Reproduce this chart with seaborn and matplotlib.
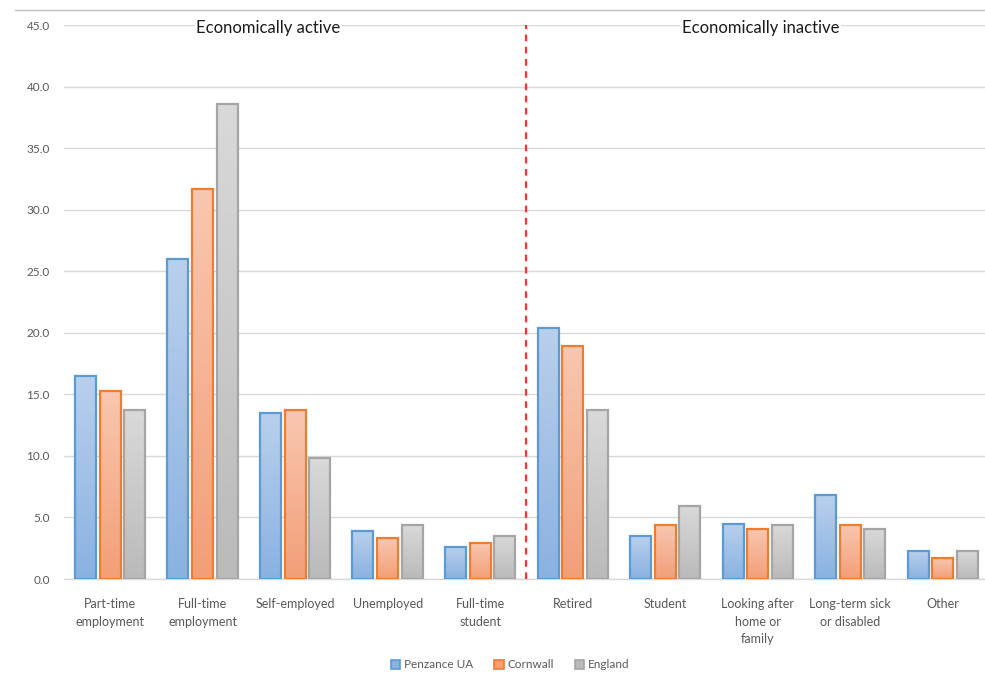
import numpy as np
import pandas as pd
import matplotlib
matplotlib.use("Agg")
import matplotlib.pyplot as plt
import seaborn as sns
from matplotlib.colors import LinearSegmentedColormap
from matplotlib.patches import Patch

categories = ["Part-time\nemployment", "Full-time\nemployment", "Self-employed",
              "Unemployed", "Full-time\nstudent", "Retired", "Student",
              "Looking after\nhome or\nfamily", "Long-term sick\nor disabled", "Other"]
series = ["Penzance UA", "Cornwall", "England"]
penzance = [16.5, 26.0, 13.5, 3.9, 2.6, 20.4, 3.5, 4.5, 6.8, 2.3]
cornwall = [15.3, 31.7, 13.7, 3.3, 2.9, 18.9, 4.4, 4.1, 4.4, 1.7]
england = [13.7, 38.6, 9.8, 4.4, 3.5, 13.7, 5.9, 4.4, 4.1, 2.3]
y_ticks = [0, 5, 10, 15, 20, 25, 30, 35, 40, 45]
section_labels = ["Economically active", "Economically inactive"]

edge_colors = ["#5B9BD5", "#ED7D31", "#A5A5A5"]
grad_top = ["#b9d0ec", "#f8c7b0", "#d9d9d9"]
grad_bot = ["#8ab2e1", "#f29f77", "#bababa"]

df = pd.DataFrame({
    "category": categories * 3,
    "series": [s for s in series for _ in categories],
    "value": penzance + cornwall + england,
})

sns.set_theme(style="white")
plt.rcParams["font.family"] = ["Lato", "DejaVu Sans"]

fig = plt.figure(figsize=(9.85, 6.75), dpi=100)
ax = fig.add_axes([63.8 / 985, 96 / 675, 923.3 / 985, 554 / 675])

sns.barplot(data=df, x="category", y="value", hue="series", order=categories,
            hue_order=series, palette=grad_bot, width=0.8, gap=0.15,
            ax=ax, legend=False, zorder=3)

# Gradient fills and edges
n = len(categories)
for i, cont in enumerate(ax.containers):
    cmap = LinearSegmentedColormap.from_list(f"g{i}", [grad_bot[i], grad_top[i]])
    for p in cont.patches:
        x0, y0 = p.get_x(), p.get_y()
        w, h = p.get_width(), p.get_height()
        p.set_facecolor("none")
        p.set_edgecolor(edge_colors[i])
        p.set_linewidth(1.6)
        p.set_zorder(4)
        grad = np.linspace(0, 1, 100).reshape(-1, 1)
        im = ax.imshow(grad, cmap=cmap, extent=[x0, x0 + w, y0, y0 + h],
                       origin="lower", aspect="auto", zorder=3.5)
        im.set_clip_path(p)

ax.set_xlim(-0.5, n - 0.5 - 2 / 92.3)
ax.set_ylim(0, 45)
ax.set_yticks(y_ticks)
ax.set_yticklabels([f"{v:.1f}" for v in y_ticks])
ax.grid(axis="y", color="#d9d9d9", linewidth=1.0, zorder=0)
ax.set_axisbelow(True)
for s in ["top", "right", "left"]:
    ax.spines[s].set_visible(False)
ax.spines["bottom"].set_color("#d9d9d9")
ax.spines["bottom"].set_linewidth(1.0)
ax.tick_params(axis="y", labelsize=8.5, colors="#595959", length=0, pad=10)
ax.tick_params(axis="x", labelsize=9, colors="#595959", length=0, pad=14)
for lbl in ax.get_xticklabels():
    lbl.set_linespacing(1.55)
ax.set_xlabel("")
ax.set_ylabel("")

ax.axvline(4.5, color="#ff3333", linestyle=(0, (3, 2.5)), linewidth=1.6, zorder=5)

ax.text(1.71, 44.75, section_labels[0], ha="center", va="center", fontsize=12,
        color="#1a1a1a", zorder=6,
        bbox=dict(facecolor="white", edgecolor="none", pad=1))
ax.text(7.03, 44.75, section_labels[1], ha="center", va="center", fontsize=12,
        color="#1a1a1a", zorder=6,
        bbox=dict(facecolor="white", edgecolor="none", pad=1))

handles = [Patch(facecolor=grad_bot[i], edgecolor=edge_colors[i], linewidth=1.2)
           for i in range(3)]
fig.legend(handles, series, loc="center", bbox_to_anchor=(510 / 985, 1 - 665 / 675),
           ncol=3, frameon=False, fontsize=8.5, handlelength=0.8, handleheight=0.8,
           handletextpad=0.3, columnspacing=1.8, labelcolor="#595959")

fig.add_artist(plt.Line2D([15 / 985, 1.0], [1 - 10 / 675, 1 - 10 / 675],
                          color="#bfbfbf", linewidth=1.0))

fig.savefig("out.png", dpi=100)
